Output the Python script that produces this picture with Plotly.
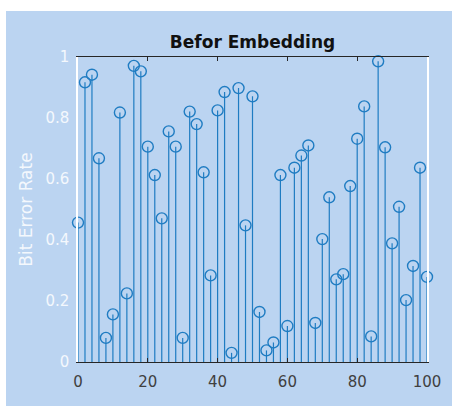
import plotly.graph_objects as go

# Sample index and bit error rate per sample
sample_idx = list(range(0, 101, 2))
bit_error_rate = [
    0.457, 0.917, 0.942, 0.668, 0.079, 0.156, 0.818, 0.225, 0.971, 0.953,
    0.706, 0.613, 0.471, 0.756, 0.706, 0.079, 0.821, 0.780, 0.622, 0.284,
    0.825, 0.885, 0.030, 0.898, 0.448, 0.871, 0.164, 0.038, 0.064, 0.613,
    0.118, 0.637, 0.677, 0.710, 0.128, 0.403, 0.540, 0.271, 0.288, 0.577,
    0.732, 0.838, 0.084, 0.986, 0.704, 0.389, 0.509, 0.203, 0.315, 0.637,
    0.279,
]
x_ticks = [0, 20, 40, 60, 80, 100]
y_ticks = [0, 0.2, 0.4, 0.6, 0.8, 1]
y_tick_text = ["0", "0.2", "0.4", "0.6", "0.8", "1"]

STEM = "#1f7cc2"
BG = "#bbd4f1"
FONT = "DejaVu Sans, Verdana, sans-serif"

# Stems: vertical segments from the baseline to each value
stem_x, stem_y = [], []
for xv, yv in zip(sample_idx, bit_error_rate):
    stem_x += [xv, xv, None]
    stem_y += [0, yv, None]

fig = go.Figure()
fig.add_trace(go.Scatter(
    x=stem_x, y=stem_y, mode="lines",
    line=dict(color=STEM, width=1.2),
    hoverinfo="skip", showlegend=False,
))
fig.add_trace(go.Scatter(
    x=sample_idx, y=bit_error_rate, mode="markers",
    marker=dict(symbol="circle-open", size=11, color=STEM,
                line=dict(color=STEM, width=1.4)),
    cliponaxis=False, showlegend=False,
))

# Light blue figure panel behind the axes
fig.add_shape(
    type="rect", xref="paper", yref="paper",
    x0=-0.2063, x1=1.12, y0=-0.16, y1=1.1508,
    fillcolor=BG, line=dict(width=0), layer="below",
)

fig.update_layout(
    width=452, height=406,
    margin=dict(l=78, r=25, t=57, b=44),
    paper_bgcolor="white",
    plot_bgcolor="white",
    font=dict(family=FONT),
    title=dict(
        text="<b>Befor Embedding</b>",
        x=0.5, xref="paper", xanchor="center",
        y=1 - 42 / 406, yref="container", yanchor="middle",
        font=dict(size=17, color="#111111", family=FONT),
    ),
    xaxis=dict(
        range=[0, 100], tickvals=x_ticks,
        showgrid=False, zeroline=False,
        showline=True, linecolor="#262626", linewidth=1,
        mirror="ticks", ticks="inside", ticklen=4, tickcolor="#262626",
        tickfont=dict(size=15, color="#404040"),
        ticklabelstandoff=6,
    ),
    yaxis=dict(
        range=[0, 1], tickvals=y_ticks, ticktext=y_tick_text,
        showgrid=False, zeroline=False,
        showline=True, linecolor="white", linewidth=1.5,
        mirror=True, ticks="",
        tickfont=dict(size=15, color="#f4f8fd"),
        ticklabelstandoff=4,
        title=dict(text="Bit Error Rate", standoff=8,
                   font=dict(size=17, color="#f4f8fd")),
    ),
)

fig.write_html("out.html")
